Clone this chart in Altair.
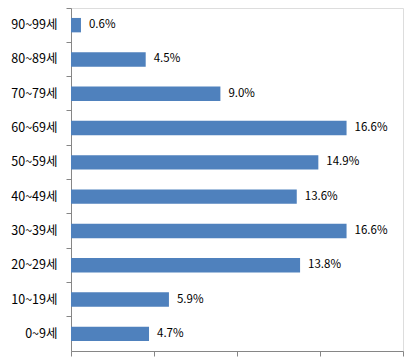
import altair as alt
import pandas as pd

categories = ["90~99세", "80~89세", "70~79세", "60~69세", "50~59세",
              "40~49세", "30~39세", "20~29세", "10~19세", "0~9세"]
values = [0.6, 4.5, 9.0, 16.6, 14.9, 13.6, 16.6, 13.8, 5.9, 4.7]
labels = ["0.6%", "4.5%", "9.0%", "16.6%", "14.9%", "13.6%", "16.6%", "13.8%", "5.9%", "4.7%"]
x_ticks = [0, 5, 10, 15, 20]

df = pd.DataFrame({"cat": categories, "val": values, "lab": labels})

font = "Noto Sans CJK KR"
axis_color = "#868686"

y = alt.Y("cat:N", sort=categories, title=None,
          scale=alt.Scale(paddingInner=0, paddingOuter=0),
          axis=alt.Axis(domainColor=axis_color, tickColor=axis_color, tickSize=5,
                        bandPosition=0,
                        labelFont=font, labelFontSize=12.5, labelColor="#000000",
                        labelPadding=9, grid=False))
x = alt.X("val:Q", title=None,
          scale=alt.Scale(domain=[0, 20], nice=False),
          axis=alt.Axis(values=x_ticks, labels=False, domainColor=axis_color,
                        tickColor=axis_color, tickSize=5, grid=False))

bars = alt.Chart(df).mark_bar(color="#4F81BD", height={"band": 0.42}).encode(x=x, y=y)
text = alt.Chart(df).mark_text(align="left", baseline="middle", dx=8,
                               font=font, fontSize=11.5, color="#000000").encode(
    x=x, y=y, text="lab:N")

chart = (bars + text).properties(
    width=332, height=343,
    autosize=alt.AutoSizeParams(type="none"),
    padding={"left": 63, "top": 0, "right": 4, "bottom": 10},
).configure_view(stroke=None).configure(background="#ffffff")

chart.save("out.html", embed_options={"renderer": "svg", "actions": False})
